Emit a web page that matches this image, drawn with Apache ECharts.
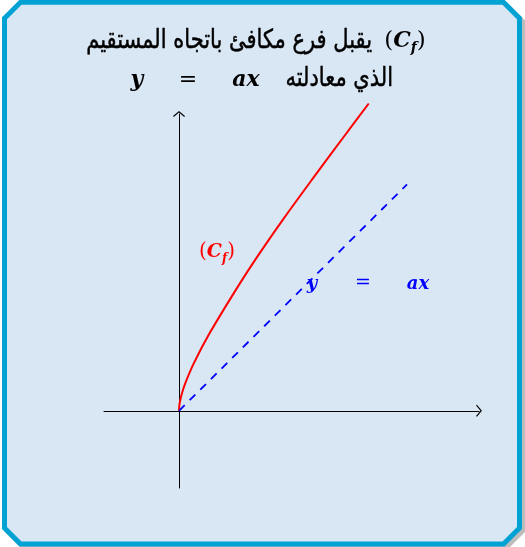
<!DOCTYPE html>
<html>
<head>
<meta charset="utf-8">
<script src="https://cdn.jsdelivr.net/npm/echarts@6/dist/echarts.min.js"></script>
<style>
  html, body { margin: 0; padding: 0; background: #fff; }
  #chart { width: 525px; height: 547px; }
</style>
</head>
<body>
<div id="chart"></div>
<script>
// values (1 unit = one axis step of the drawing)
const curvePoints = [
  [0, 0], [0.01, 0.11], [0.05, 0.27], [0.1, 0.41], [0.2, 0.64], [0.4, 1.02],
  [0.7, 1.52], [1.0, 1.99], [1.4, 2.57], [1.8, 3.12], [2.2, 3.66], [2.53, 4.1]
];
const asymptotePoints = [[0, 0], [3.04, 3.02]];
const xRange = [-1, 4];
const yRange = [-1.03, 3.96];

const titleArabic1 = 'يقبل فرع مكافئ باتجاه المستقيم';
const titleArabic2 = 'الذي معادلته';
const curveName = '{p|(}{c|C}{s|f}{p|)}';
const lineEquation = ['y', '=', 'ax'];

const chevron = 'path://M0,0 L6,5 L5.2,5.9 L0,1.5 L-5.2,5.9 L-6,5 Z';
const mathFont = '"DejaVu Serif"';
const arabicFont = '"DejaVu Sans"';

function frame(dx, dy, c) {
  const l = 4.5 + dx, t = 2.3 + dy, r = 519.5 + dx, b = 544 + dy;
  return [[l + c, t], [r - c, t], [r, t + c], [r, b - c], [r - c, b], [l + c, b], [l, b - c], [l, t + c]];
}

function mathRich(color, size) {
  return {
    p: { fontFamily: mathFont, fontSize: size + 1, fill: color, lineHeight: size + 6 },
    c: { fontFamily: mathFont, fontStyle: 'italic', fontWeight: 'bold', fontSize: size, fill: color, lineHeight: size + 6 },
    s: { fontFamily: mathFont, fontStyle: 'italic', fontWeight: 'bold', fontSize: Math.round(size * 0.62), fill: color, verticalAlign: 'bottom', lineHeight: size + 6 }
  };
}

const chart = echarts.init(document.getElementById('chart'), null, { renderer: 'canvas' });

const axisCommon = {
  type: 'value',
  axisLine: {
    onZero: true,
    symbol: ['none', chevron],
    symbolSize: [12, 6],
    lineStyle: { color: '#000', width: 1 }
  },
  axisTick: { show: false },
  axisLabel: { show: false },
  splitLine: { show: false }
};

chart.setOption({
  animation: false,
  backgroundColor: '#fff',
  grid: { left: 104, right: 46, top: 114, bottom: 59 },
  xAxis: Object.assign({}, axisCommon, { min: xRange[0], max: xRange[1] }),
  yAxis: Object.assign({}, axisCommon, { min: yRange[0], max: yRange[1] }),
  graphic: [
    { type: 'polygon', z: -20, shape: { points: frame(3, 3, 16) },
      style: { fill: '#bdbdbd', stroke: '#bdbdbd', lineWidth: 5 } },
    { type: 'polygon', z: -10, shape: { points: frame(0, 0, 16) },
      style: { fill: '#d9e6f4', stroke: '#00a2d3', lineWidth: 5 } },
    { type: 'text', x: 372, y: 41, scaleY: 1.25,
      style: { text: titleArabic1, font: '21px ' + arabicFont, fill: '#000', align: 'right', verticalAlign: 'middle', stroke: '#000', lineWidth: 0.4 } },
    { type: 'text', x: 405, y: 41,
      style: { text: curveName, rich: mathRich('#000', 22), align: 'center', verticalAlign: 'middle' } },
    { type: 'text', x: 393, y: 79, scaleY: 1.25,
      style: { text: titleArabic2, font: '21px ' + arabicFont, fill: '#000', align: 'right', verticalAlign: 'middle', stroke: '#000', lineWidth: 0.4 } },
    { type: 'text', x: 137, y: 80,
      style: { text: lineEquation[0], font: 'italic bold 22px ' + mathFont, fill: '#000', align: 'center', verticalAlign: 'middle' } },
    { type: 'text', x: 188, y: 80,
      style: { text: lineEquation[1], font: '22px ' + mathFont, fill: '#000', align: 'center', verticalAlign: 'middle' } },
    { type: 'text', x: 246, y: 80,
      style: { text: lineEquation[2], font: 'italic bold 22px ' + mathFont, fill: '#000', align: 'center', verticalAlign: 'middle' } },
    { type: 'text', x: 217, y: 252,
      style: { text: curveName, rich: mathRich('#ff0000', 19), align: 'center', verticalAlign: 'middle' } },
    { type: 'text', x: 312, y: 284,
      style: { text: lineEquation[0], font: 'italic bold 18px ' + mathFont, fill: '#0000ff', align: 'center', verticalAlign: 'middle' } },
    { type: 'text', x: 363, y: 283,
      style: { text: lineEquation[1], font: '19px ' + mathFont, fill: '#0000ff', align: 'center', verticalAlign: 'middle' } },
    { type: 'text', x: 418, y: 284,
      style: { text: lineEquation[2], font: 'italic bold 18px ' + mathFont, fill: '#0000ff', align: 'center', verticalAlign: 'middle' } }
  ],
  series: [
    {
      type: 'line',
      data: asymptotePoints,
      showSymbol: false,
      clip: false,
      lineStyle: { color: '#0000ff', width: 1.8, type: [8, 7] },
      z: 3
    },
    {
      type: 'line',
      data: curvePoints,
      smooth: 0.3,
      showSymbol: false,
      clip: false,
      lineStyle: { color: '#ff0000', width: 2 },
      z: 2
    }
  ]
});
</script>
</body>
</html>
